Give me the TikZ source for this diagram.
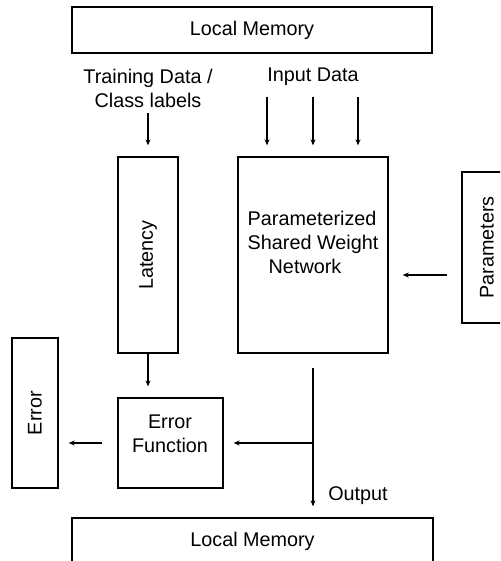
\documentclass[tikz,border=0pt]{standalone}
\usepackage{fontspec}
\setmainfont{Liberation Sans}
\usetikzlibrary{arrows.meta}
\begin{document}
\begin{tikzpicture}[x=1pt,y=-1pt,
  box/.style={draw,line width=1.3pt,rectangle,inner sep=0pt},
  lbl/.style={font=\fontsize{19.8}{24}\selectfont,inner sep=0pt,align=center},
  conn/.style={line width=1.2pt,-{Stealth[length=6pt,width=5pt]}}]
\useasboundingbox (0,0) rectangle (500,561);
\clip (0,0) rectangle (500,561);
% boxes
\node[box,minimum width=360pt,minimum height=46pt] (topmem) at (252,30) {};
\node[lbl] (topmemt) at (252,30) {Local Memory};
\node[box,minimum width=60pt,minimum height=196pt] (lat) at (148,255) {};
\node[lbl,rotate=90] (latt) at (148,255) {Latency};
\node[box,minimum width=150pt,minimum height=196pt] (net) at (313,255) {};
\node[lbl,align=left] (nett) at (313,242) {Parameterized\\Shared Weight\\\hspace*{21pt}Network};
\node[box,minimum width=60pt,minimum height=151pt] (par) at (492,247.5) {};
\node[lbl,rotate=90] (part) at (487,247.5) {Parameters};
\node[box,minimum width=105pt,minimum height=90pt] (errfn) at (170.5,443) {};
\node[lbl] (errfnt) at (170,434) {Error\\Function};
\node[box,minimum width=46pt,minimum height=150pt] (err) at (35,413) {};
\node[lbl,rotate=90] (errt) at (35,413) {Error};
\node[box,minimum width=361pt,minimum height=54pt] (botmem) at (252.5,545) {};
\node[lbl] (botmemt) at (252.5,541) {Local Memory};
% labels
\node[lbl] (train) at (148,88) {Training Data /\\Class labels};
\node[lbl] (inp) at (313,77) {Input Data};
\node[lbl] (outp) at (358,496) {Output};
% coordinates
\coordinate (t1) at (148,113);
\coordinate (i1) at (267,97);
\coordinate (i2) at (313,97);
\coordinate (i3) at (358,97);
\coordinate (o1) at (313,368);
\coordinate (o2) at (313,443);
% connectors
\draw[conn,shorten >=11pt] (t1) -- (t1 |- lat.north);
\draw[conn,shorten >=11pt] (i1) -- (i1 |- net.north);
\draw[conn,shorten >=11pt] (i2) -- (i2 |- net.north);
\draw[conn,shorten >=11pt] (i3) -- (i3 |- net.north);
\draw[conn,shorten >=11pt] (lat.south) -- (lat.south |- errfn.north);
\draw[conn,shorten >=11pt] (o1) -- (o1 |- botmem.north);
\draw[conn,shorten >=10pt] (o2) -- (errfn.east |- o2);
\draw[conn,shorten <=15pt,shorten >=10pt] (errfn.west) -- (err.east |- errfn.west);
\draw[conn,shorten <=14pt,shorten >=14pt] (par.west |- 0,275) -- (net.east |- 0,275);
\end{tikzpicture}
\end{document}
